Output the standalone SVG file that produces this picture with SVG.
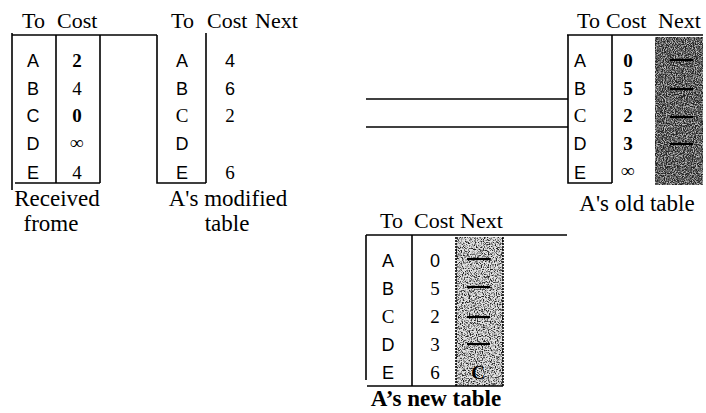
<svg xmlns="http://www.w3.org/2000/svg" width="706" height="413" viewBox="0 0 706 413">
<style>
.ln{stroke:#000;stroke-width:1.6;fill:none}
.hd{font-family:"Liberation Serif","Times New Roman",serif;font-size:22px;fill:#000}
.lt{font-family:"Liberation Sans",Arial,sans-serif;font-size:18px;fill:#000;text-anchor:middle}
.nm{font-family:"Liberation Serif","Times New Roman",serif;font-size:19px;fill:#000;text-anchor:middle}
.nb{font-family:"Liberation Serif","Times New Roman",serif;font-size:19px;font-weight:bold;fill:#000;text-anchor:middle}
.cap{font-family:"Liberation Serif","Times New Roman",serif;font-size:23px;fill:#000;text-anchor:middle}
.dash{stroke:#000;stroke-width:2.2}
</style>
<defs>
<filter id="grainDark" x="0" y="0" width="100%" height="100%">
<feTurbulence type="fractalNoise" baseFrequency="0.9" numOctaves="2" seed="4" result="n"/>
<feColorMatrix in="n" type="matrix" values="0 0 0 0 0  0 0 0 0 0  0 0 0 0 0  0 0 0 -3 2.1" result="a"/>
<feComposite in="SourceGraphic" in2="a" operator="in"/>
</filter>
<filter id="grainLight" x="0" y="0" width="100%" height="100%">
<feTurbulence type="fractalNoise" baseFrequency="0.85" numOctaves="2" seed="9" result="n"/>
<feColorMatrix in="n" type="matrix" values="0 0 0 0 0  0 0 0 0 0  0 0 0 0 0  0 0 0 -4 2.2" result="a"/>
<feComposite in="SourceGraphic" in2="a" operator="in"/>
</filter>
</defs>

<g id="connectors">
<line class="ln" x1="366" y1="99" x2="568" y2="99"/>
<line class="ln" x1="366" y1="127" x2="568" y2="127"/>
</g>

<g id="received-table">
<text class="hd" x="22" y="28">To</text>
<text class="hd" x="57" y="28">Cost</text>
<polyline class="ln" points="12,35 157,35"/>
<line class="ln" x1="12" y1="33" x2="12" y2="190"/>
<line class="ln" x1="56" y1="35" x2="56" y2="183"/>
<line class="ln" x1="100" y1="35" x2="100" y2="183"/>
<line class="ln" x1="15" y1="183" x2="100" y2="183"/>
<text class="lt" x="33" y="67">A</text>
<text class="lt" x="33" y="95">B</text>
<text class="lt" x="33" y="122">C</text>
<text class="lt" x="33" y="150">D</text>
<text class="lt" x="33" y="179">E</text>
<text class="nb" x="77" y="67">2</text>
<text class="nm" x="77" y="95">4</text>
<text class="nb" x="77" y="122">0</text>
<text class="nb" x="77" y="149" font-size="16">∞</text>
<text class="nm" x="77" y="179">4</text>
<text class="cap" x="57" y="206">Received</text>
<text class="cap" x="51" y="231">frome</text>
</g>

<g id="modified-table">
<text class="hd" x="171" y="28">To</text>
<text class="hd" x="207" y="28">Cost</text>
<text class="hd" x="255" y="28">Next</text>
<polyline class="ln" points="157,35 157,183 206,183"/>
<line class="ln" x1="206" y1="33" x2="206" y2="183"/>
<text class="lt" x="182" y="67">A</text>
<text class="lt" x="182" y="95">B</text>
<text class="nm" x="182" y="122">C</text>
<text class="lt" x="182" y="150">D</text>
<text class="lt" x="182" y="179">E</text>
<text class="lt" x="230" y="67">4</text>
<text class="lt" x="230" y="95">6</text>
<text class="nm" x="230" y="122">2</text>
<text class="nm" x="230" y="179">6</text>
<text class="cap" x="228" y="206">A's modified</text>
<text class="cap" x="227" y="231">table</text>
</g>

<g id="old-table">
<text class="hd" x="577" y="28">To</text>
<text class="hd" x="606" y="28">Cost</text>
<text class="hd" x="658" y="28">Next</text>
<rect x="655" y="37" width="48" height="148" fill="#bdbdbd"/>
<rect x="655" y="37" width="48" height="148" fill="#222" filter="url(#grainDark)"/>
<line class="ln" x1="567" y1="35" x2="703" y2="35"/>
<polyline class="ln" points="568,35 568,183 612,183"/>
<line class="ln" x1="612" y1="35" x2="612" y2="183"/>
<line class="dash" x1="670" y1="60" x2="693" y2="60"/>
<line class="dash" x1="670" y1="89" x2="693" y2="89"/>
<line class="dash" x1="670" y1="117" x2="693" y2="117"/>
<line class="dash" x1="670" y1="144" x2="693" y2="144"/>
<text class="lt" x="580" y="67">A</text>
<text class="lt" x="580" y="95">B</text>
<text class="nm" x="580" y="122">C</text>
<text class="lt" x="580" y="150">D</text>
<text class="lt" x="580" y="179">E</text>
<text class="nb" x="628" y="67">0</text>
<text class="nb" x="628" y="95">5</text>
<text class="nb" x="628" y="122">2</text>
<text class="nb" x="628" y="150">3</text>
<text class="nb" x="628" y="177" font-size="16">∞</text>
<text class="cap" x="637" y="211">A's old table</text>
</g>

<g id="new-table">
<text class="hd" x="380" y="228">To</text>
<text class="hd" x="414" y="228">Cost</text>
<text class="hd" x="460" y="228">Next</text>
<rect x="456" y="237" width="47" height="149" fill="#e2e2e2"/>
<rect x="456" y="237" width="47" height="149" fill="#222" filter="url(#grainLight)"/>
<line class="ln" x1="366" y1="235" x2="567" y2="235"/>
<line class="ln" x1="366" y1="235" x2="366" y2="380"/>
<line class="ln" x1="412" y1="235" x2="412" y2="386"/>
<line class="ln" x1="367" y1="386" x2="503" y2="386"/>
<line class="ln" x1="456" y1="237" x2="456" y2="386" stroke-dasharray="2 1"/>
<line class="ln" x1="503" y1="237" x2="503" y2="386" stroke-dasharray="2 1"/>
<line class="dash" x1="467" y1="259" x2="490" y2="259"/>
<line class="dash" x1="467" y1="287" x2="490" y2="287"/>
<line class="dash" x1="467" y1="317" x2="490" y2="317"/>
<line class="dash" x1="467" y1="344" x2="490" y2="344"/>
<text class="lt" x="388" y="267">A</text>
<text class="lt" x="388" y="295">B</text>
<text class="nm" x="388" y="323">C</text>
<text class="lt" x="388" y="351">D</text>
<text class="lt" x="388" y="379">E</text>
<text class="lt" x="435" y="267">0</text>
<text class="nm" x="435" y="295">5</text>
<text class="nm" x="435" y="323">2</text>
<text class="nm" x="435" y="351">3</text>
<text class="nm" x="435" y="379">6</text>
<text class="nb" x="478" y="379">C</text>
<text class="cap" x="436" y="406" font-size="21" font-weight="bold">A’s new table</text>
</g>
</svg>
